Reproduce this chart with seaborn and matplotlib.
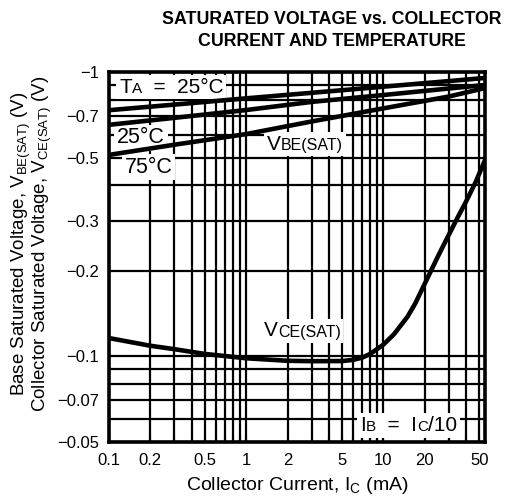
import numpy as np
import matplotlib
matplotlib.use("Agg")
import matplotlib.pyplot as plt
from matplotlib.offsetbox import TextArea, HPacker, AnnotationBbox
import seaborn as sns

sns.set_style("white")
plt.rcParams['font.family'] = ['Liberation Sans', 'DejaVu Sans']
plt.rcParams['text.color'] = 'black'
plt.rcParams['axes.labelcolor'] = 'black'

# data (collector current in mA, voltages in V)
ic_vbe = [0.1, 0.3, 1, 3, 10, 30, 55]
vbe_top = [-0.734, -0.768, -0.808, -0.845, -0.888, -0.929, -0.953]
vbe_25 = [-0.652, -0.690, -0.735, -0.785, -0.830, -0.875, -0.900]
vbe_75 = [-0.511, -0.555, -0.605, -0.670, -0.745, -0.820, -0.878]

ic_vce = [0.1, 0.2, 0.3, 0.5, 1, 2, 3, 5, 6, 7, 8, 10, 12, 15, 17, 20, 25, 30, 35, 40, 47, 55]
vce = [-0.116, -0.109, -0.106, -0.102, -0.0985, -0.0965, -0.0962, -0.0963, -0.0972,
       -0.0990, -0.102, -0.110, -0.120, -0.138, -0.153, -0.180, -0.225, -0.268,
       -0.310, -0.350, -0.410, -0.490]

x_major = [0.1, 0.2, 0.5, 1, 2, 5, 10, 20, 50]
x_labels = ["0.1", "0.2", "0.5", "1", "2", "5", "10", "20", "50"]
x_minor = [0.3, 0.4, 0.6, 0.7, 0.8, 0.9, 3, 4, 6, 7, 8, 9, 30, 40]
y_major = [0.05, 0.07, 0.1, 0.2, 0.3, 0.5, 0.7, 1]
y_labels = ["\u22120.05", "\u22120.07", "\u22120.1", "\u22120.2", "\u22120.3",
            "\u22120.5", "\u22120.7", "\u22121"]
y_minor = [0.06, 0.08, 0.09, 0.4, 0.6, 0.8, 0.9]

fig = plt.figure(figsize=(5.06, 4.97), dpi=100)
ax = fig.add_axes([109 / 506, 1 - 442 / 497, 376 / 506, 370 / 497])

for xs, ys in [(ic_vbe, vbe_top), (ic_vbe, vbe_25), (ic_vbe, vbe_75), (ic_vce, vce)]:
    sns.lineplot(x=xs, y=np.abs(ys), color="black", lw=3.3, ax=ax,
                 sort=False, estimator=None, zorder=5)

ax.set_xscale("log")
ax.set_yscale("log")
ax.set_xlim(0.1, 55)
ax.set_ylim(0.05, 1)

ax.set_xticks(x_major)
ax.set_xticklabels(x_labels)
ax.set_xticks(x_minor, minor=True)
ax.set_xticklabels([""] * len(x_minor), minor=True)
ax.set_yticks(y_major)
ax.set_yticklabels(y_labels)
ax.set_yticks(y_minor, minor=True)
ax.set_yticklabels([""] * len(y_minor), minor=True)

ax.grid(which="both", color="black", lw=1.6)
ax.set_axisbelow(True)
ax.tick_params(axis="x", which="both", direction="in", length=5, width=1.5,
               bottom=True, pad=8, labelsize=12, colors="black")
ax.tick_params(axis="y", which="both", length=0, pad=7, labelsize=12, colors="black")
for s in ax.spines.values():
    s.set_linewidth(2.6)
    s.set_color("black")


def label(parts, x, y):
    # big letters with small-caps style pieces on the same baseline
    kids = [TextArea(t, textprops=dict(size=sz, color="black")) for t, sz in parts]
    pack = HPacker(children=kids, align="baseline", pad=0, sep=0)
    ab = AnnotationBbox(pack, (x, y), xycoords="axes fraction", box_alignment=(0, 0.5),
                        frameon=True, pad=0.2,
                        bboxprops=dict(facecolor="white", edgecolor="none"))
    ab.set_zorder(4)
    ax.add_artist(ab)


label([("T", 15), ("A", 11), ("  =  25°C", 15)], 0.027, 0.959)
label([("25°C", 15.5)], 0.022, 0.822)
label([("75°C", 15.5)], 0.041, 0.743)
label([("V", 15), ("BE(SAT)", 11.5)], 0.42, 0.805)
label([("V", 15), ("CE(SAT)", 11.5)], 0.412, 0.30)
label([("I", 15), ("B", 11), ("  =  I", 15), ("C", 11), ("/10", 15)], 0.668, 0.045)

ax.set_xlabel(r"Collector Current, I$_\mathregular{C}$ (mA)", fontsize=14, labelpad=5)
ax.set_ylabel("Base Saturated Voltage, V$_\\mathregular{BE(SAT)}$ (V)\n"
              "Collector Saturated Voltage, V$_\\mathregular{CE(SAT)}$ (V)",
              fontsize=13.5, linespacing=0.85)
ax.yaxis.set_label_coords(-0.147, 0.535)

fig.text(332 / 506, 1 - 11 / 497, "SATURATED VOLTAGE vs. COLLECTOR\nCURRENT AND TEMPERATURE",
         ha="center", va="top", fontsize=12.8, fontweight="bold", linespacing=1.4)

fig.savefig("out.png", dpi=100)
